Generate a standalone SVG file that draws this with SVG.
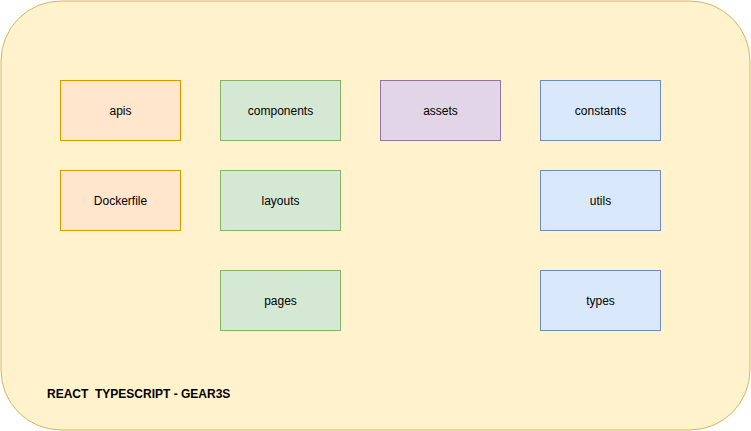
<svg xmlns="http://www.w3.org/2000/svg" width="751" height="431" viewBox="0 0 751 431">
<style>
.t{font-family:"Liberation Sans",Arial,sans-serif;font-size:12px;fill:#000;text-anchor:middle;dominant-baseline:central}
.o{fill:#ffe6cc;stroke:#d79b00}
.g{fill:#d5e8d4;stroke:#82b366}
.p{fill:#e1d5e7;stroke:#9673a6}
.b{fill:#dae8fc;stroke:#6c8ebf}
</style>
<g id="container">
<rect x="1" y="1" width="749" height="429" rx="60" ry="60" fill="#fff2cc" stroke="#d6b656"/>
<text x="47" y="398" font-family="'Liberation Sans',Arial,sans-serif" font-size="12" font-weight="bold" xml:space="preserve">REACT  TYPESCRIPT - GEAR3S</text>
</g>
<g id="apis"><rect class="o" x="60.5" y="80.5" width="120" height="60"/><text class="t" x="120.5" y="110.5">apis</text></g>
<g id="dockerfile"><rect class="o" x="60.5" y="170.5" width="120" height="60"/><text class="t" x="120.5" y="200.5">Dockerfile</text></g>
<g id="components"><rect class="g" x="220.5" y="80.5" width="120" height="60"/><text class="t" x="280.5" y="110.5">components</text></g>
<g id="layouts"><rect class="g" x="220.5" y="170.5" width="120" height="60"/><text class="t" x="280.5" y="200.5">layouts</text></g>
<g id="pages"><rect class="g" x="220.5" y="270.5" width="120" height="60"/><text class="t" x="280.5" y="300.5">pages</text></g>
<g id="assets"><rect class="p" x="380.5" y="80.5" width="120" height="60"/><text class="t" x="440.5" y="110.5">assets</text></g>
<g id="constants"><rect class="b" x="540.5" y="80.5" width="120" height="60"/><text class="t" x="600.5" y="110.5">constants</text></g>
<g id="utils"><rect class="b" x="540.5" y="170.5" width="120" height="60"/><text class="t" x="600.5" y="200.5">utils</text></g>
<g id="types"><rect class="b" x="540.5" y="270.5" width="120" height="60"/><text class="t" x="600.5" y="300.5">types</text></g>
<g id="connectors"/>
</svg>
